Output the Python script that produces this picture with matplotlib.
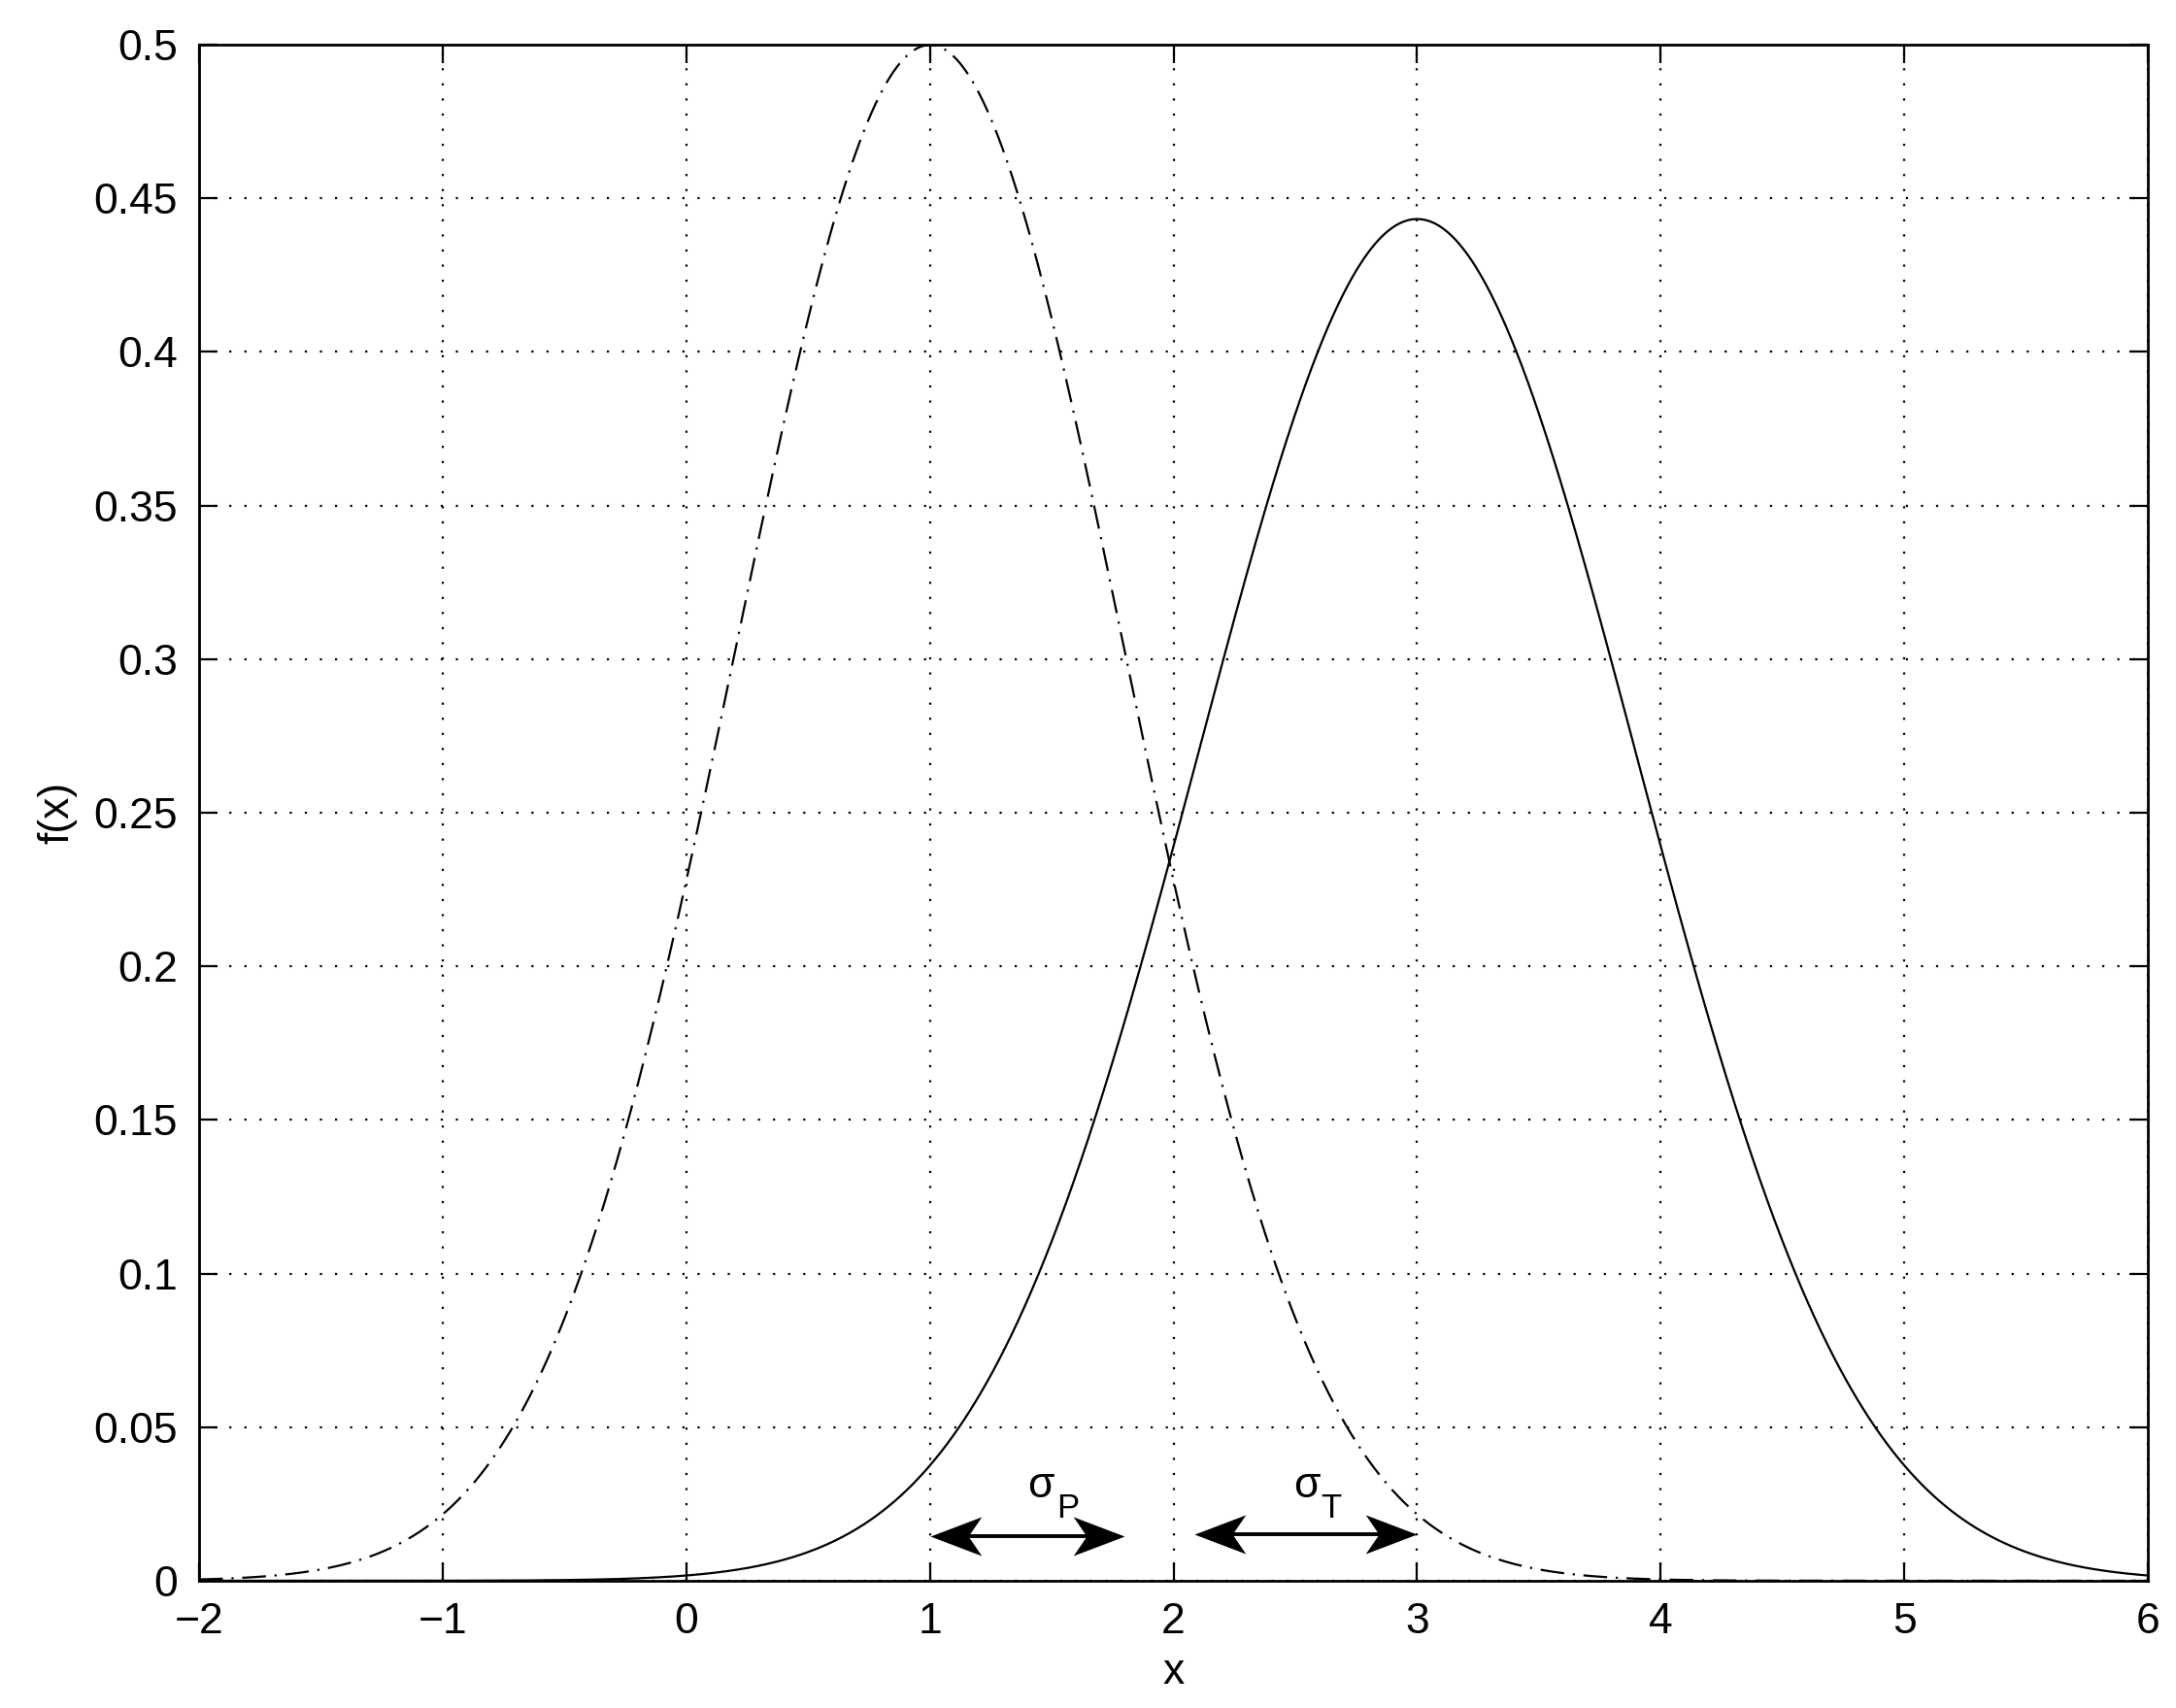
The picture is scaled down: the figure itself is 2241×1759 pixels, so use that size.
import numpy as np
import matplotlib
matplotlib.use("Agg")
import matplotlib.pyplot as plt
from matplotlib.path import Path

# Distribution parameters (peak heights 0.5 and ~0.443)
series_names = ["P", "T"]
means = [1.0, 3.0]
sigmas = [0.798, 0.9]
x_range = [-2.0, 6.0]

xticks = [-2, -1, 0, 1, 2, 3, 4, 5, 6]
xtick_labels = ["\u22122", "\u22121", "0", "1", "2", "3", "4", "5", "6"]
yticks = [0, 0.05, 0.1, 0.15, 0.2, 0.25, 0.3, 0.35, 0.4, 0.45, 0.5]
ytick_labels = ["0", "0.05", "0.1", "0.15", "0.2", "0.25", "0.3", "0.35", "0.4", "0.45", "0.5"]

# sigma arrows: (x_start, x_end, y)
arrows = [(1.0, 1.80, 0.0145), (2.087, 3.0, 0.0150)]
# labels: sigma symbol centre (x, y), subscript left/baseline (x, y), subscript text
sigma_pos = [(1.456, 0.0307), (2.548, 0.0307)]
sub_pos = [(1.519, 0.0205), (2.603, 0.0205)]
sub_text = ["P", "T"]

plt.rcParams["font.family"] = ["Liberation Sans", "DejaVu Sans"]

fig = plt.figure(figsize=(2241 / 200, 1759 / 200), dpi=200)
ax = fig.add_axes([0.0915, 0.0745, 0.9871 - 0.0915, 0.9738 - 0.0745])

x = np.linspace(x_range[0], x_range[1], 2000)
def pdf(x, m, s):
    return np.exp(-0.5 * ((x - m) / s) ** 2) / (s * np.sqrt(2 * np.pi))

ax.plot(x, pdf(x, means[0], sigmas[0]), color="black", lw=0.8,
        linestyle=(0, (11, 4, 1, 4)))
ax.plot(x, pdf(x, means[1], sigmas[1]), color="black", lw=0.8, linestyle="-")

# notched arrow heads as custom markers (tip at marker origin)
right_head = Path([(0, 0), (-1, 0.38), (-0.74, 0), (-1, -0.38), (0, 0)],
                  [Path.MOVETO, Path.LINETO, Path.LINETO, Path.LINETO, Path.CLOSEPOLY])
left_head = Path([(0, 0), (1, 0.38), (0.74, 0), (1, -0.38), (0, 0)],
                 [Path.MOVETO, Path.LINETO, Path.LINETO, Path.LINETO, Path.CLOSEPOLY])
for (x0, x1, y) in arrows:
    ax.plot([x0 + 0.05, x1 - 0.05], [y, y], color="black", lw=1.4, solid_capstyle="butt")
    ax.plot([x0], [y], marker=left_head, markersize=38, color="black",
            markeredgewidth=0, linestyle="none")
    ax.plot([x1], [y], marker=right_head, markersize=38, color="black",
            markeredgewidth=0, linestyle="none")

for (sx, sy), (px, py), t in zip(sigma_pos, sub_pos, sub_text):
    ax.text(sx, sy, "\u03c3", fontsize=16, ha="center", va="center")
    ax.text(px, py, t, fontsize=12.5, ha="left", va="baseline")

ax.set_xlim(x_range)
ax.set_ylim(0, 0.5)
ax.set_xticks(xticks)
ax.set_xticklabels(xtick_labels)
ax.set_yticks(yticks)
ax.set_yticklabels(ytick_labels)
ax.tick_params(direction="in", length=7, width=0.8, labelsize=16,
               top=True, right=True, pad=8)
ax.grid(True, color="black", linestyle=(0, (1, 6)), lw=0.8)
for sp in ax.spines.values():
    sp.set_linewidth(1.0)
ax.set_xlabel("x", fontsize=16, labelpad=4)
ax.set_ylabel("f(x)", fontsize=16, labelpad=6)

fig.savefig("out.png", dpi=200)
